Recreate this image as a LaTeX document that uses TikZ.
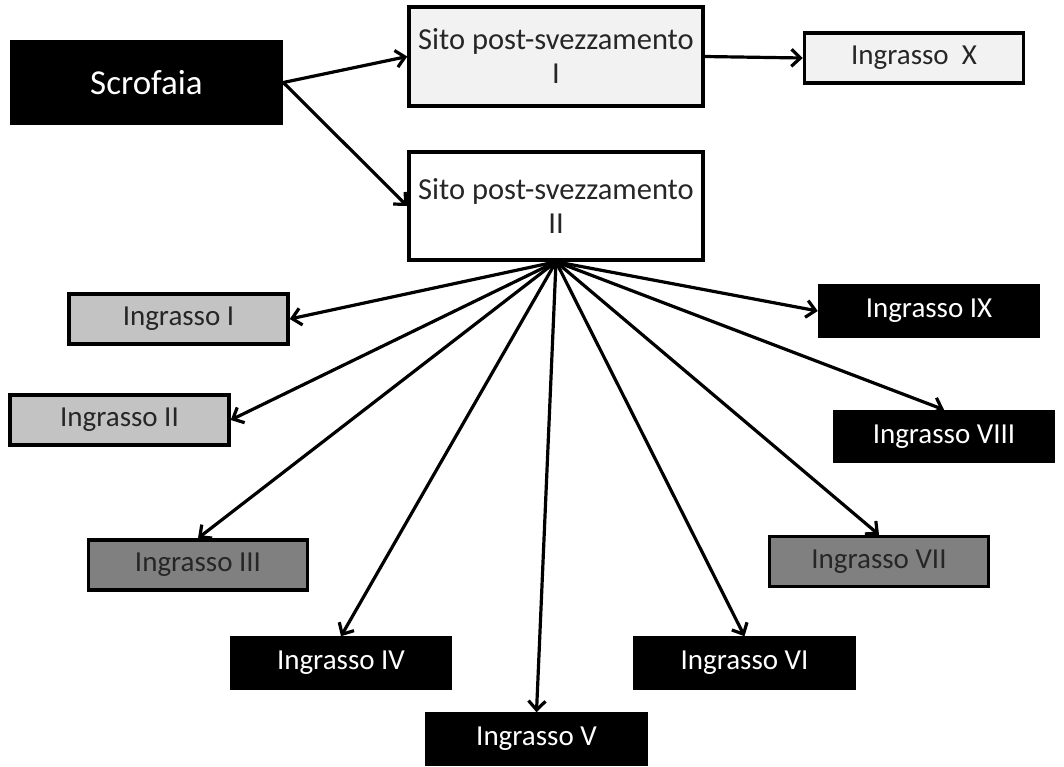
\documentclass[tikz,border=0pt]{standalone}
\usepackage{fontspec}
\setmainfont{Carlito}
\usetikzlibrary{arrows.meta}
\definecolor{paleFill}{HTML}{F2F2F2}
\definecolor{lightFill}{HTML}{C3C3C3}
\definecolor{midFill}{HTML}{808080}
\definecolor{darkText}{HTML}{262626}

\begin{document}
\begin{tikzpicture}[x=1pt,y=-1pt,>={Straight Barb[length=9pt,width=17pt]},
		base node/.style={rectangle,draw=black,line width=3.5pt,inner sep=0pt,
			minimum width=219pt,minimum height=50pt,
			font=\fontsize{29}{34}\selectfont,text=darkText},
		dark node/.style={base node,fill=black,text=white},
		light node/.style={base node,fill=lightFill},
		mid node/.style={base node,fill=midFill},
		site node/.style={base node,minimum width=294pt,align=center,
			font=\fontsize{30.5}{34}\selectfont}]
		
		\useasboundingbox (0,0) rectangle (1064,766);
		
		\node[dark node,minimum width=270pt,minimum height=82pt,
			font=\fontsize{35}{40}\selectfont] (scrofa) at (146.5,82.5) {Scrofaia};
		\node[site node,fill=paleFill,minimum height=99pt] (site1) at (556,56.5)
			{Sito post-svezzamento\\I};
		\node[base node,fill=paleFill] (ix) at (914,58) {Ingrasso~~X};
		\node[site node,fill=white,minimum height=108pt] (site2) at (556,206)
			{Sito post-svezzamento\\II};
		
		\node[light node] (i1) at (178.5,319) {Ingrasso I};
		\node[light node] (i2) at (119.5,420) {Ingrasso II};
		\node[mid node] (i3) at (198,565) {Ingrasso III};
		\node[dark node] (i4) at (341,663) {Ingrasso IV};
		\node[dark node] (i5) at (536.5,739) {Ingrasso V};
		\node[dark node] (i6) at (744.5,663) {Ingrasso VI};
		\node[mid node] (i7) at (879,561.5) {Ingrasso VII};
		\node[dark node] (i8) at (944,436.5) {Ingrasso VIII};
		\node[dark node] (i9) at (929,311) {Ingrasso IX};
		
		\path[->,line width=3.2pt]
		(scrofa.east) edge (site1.west)
		(scrofa.east) edge (site2.west)
		(site1.east) edge (ix.west)
		(site2.south) edge (i1.east)
		(site2.south) edge (i2.east)
		(site2.south) edge (i3.north)
		(site2.south) edge (i4.north)
		(site2.south) edge (i5.north)
		(site2.south) edge (i6.north)
		(site2.south) edge (i7.north)
		(site2.south) edge (i8.north)
		(site2.south) edge (i9.west);
		
	\end{tikzpicture}
\end{document}
